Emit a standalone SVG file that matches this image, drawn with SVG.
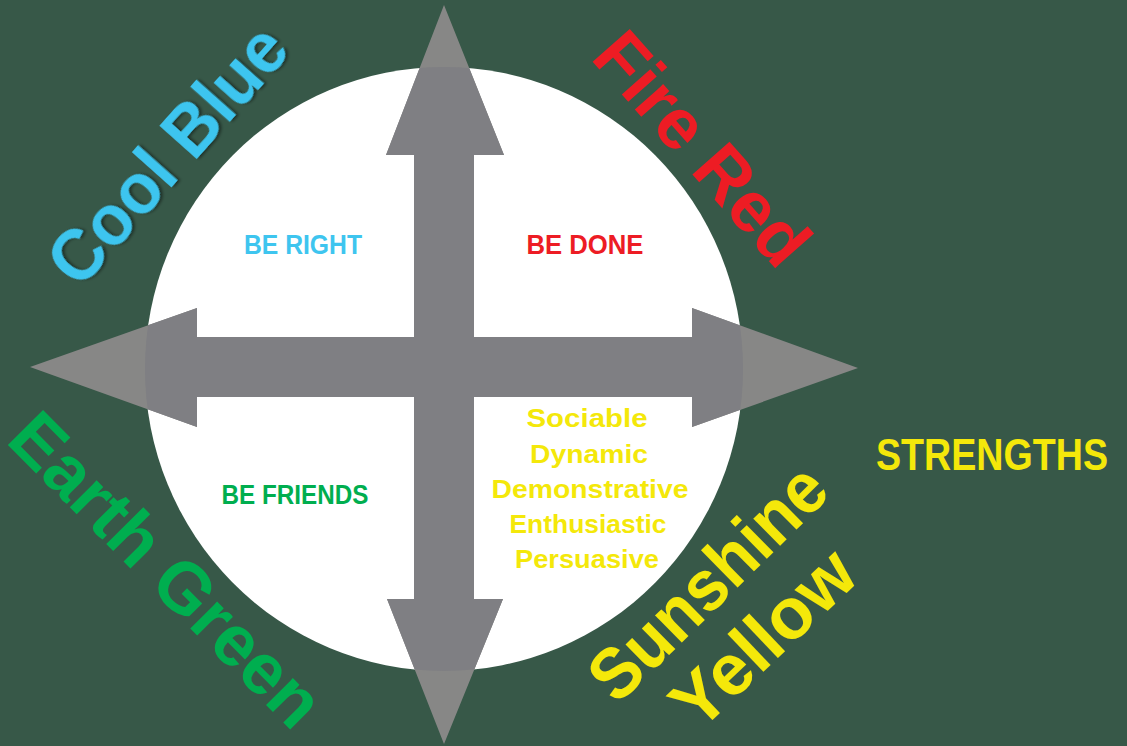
<svg xmlns="http://www.w3.org/2000/svg" width="1127" height="746" viewBox="0 0 1127 746">
<style>
.big{font-family:"Liberation Sans",Arial,sans-serif;font-weight:bold;font-size:72px;text-anchor:middle}
.lbl{font-family:"Liberation Sans",Arial,sans-serif;font-weight:bold;font-size:27px;text-anchor:middle}
.lst{font-family:"Liberation Sans",Arial,sans-serif;font-weight:bold;font-size:26px;text-anchor:middle;fill:#F4E80A}
.blue{fill:#3EC5EF}.red{fill:#ED1C24}.green{fill:#00AE4F}.yellow{fill:#F4E80A}
.arrOut{fill:#878786}.arrIn{fill:#7F7F83}
</style>
<defs>
<clipPath id="circ"><ellipse cx="444" cy="369" rx="299" ry="302"/></clipPath>
<filter id="sh" x="-10%" y="-10%" width="120%" height="120%"><feDropShadow dx="2" dy="2" stdDeviation="1.5" flood-color="#000" flood-opacity="0.45"/></filter>
<path id="arrows" d="M444,5 L504,155 L474,155 L474,337 L692,337 L692,308 L858,368 L692,427 L692,397 L474,397 L474,599 L503,599 L444,744 L387,599 L414,599 L414,397 L197,397 L197,427 L30,367 L197,308 L197,337 L414,337 L414,155 L386,155 Z"/>
</defs>
<rect width="1127" height="746" fill="#375848"/>
<ellipse id="circle" cx="444" cy="369" rx="299" ry="302" fill="#FFFFFF"/>
<g id="connectors">
<use href="#arrows" class="arrOut"/>
<use href="#arrows" class="arrIn" clip-path="url(#circ)"/>
</g>
<g id="cool-blue">
<text class="big blue" x="186" y="171" textLength="320" lengthAdjust="spacingAndGlyphs" transform="rotate(-48.3 186 171)" filter="url(#sh)">Cool Blue</text>
<text class="lbl blue" x="303" y="254" textLength="118" lengthAdjust="spacingAndGlyphs">BE RIGHT</text>
</g>
<g id="fire-red">
<text class="big red" x="684" y="165" textLength="285" lengthAdjust="spacingAndGlyphs" transform="rotate(48.5 684 165)">Fire Red</text>
<text class="lbl red" x="585" y="254" textLength="117" lengthAdjust="spacingAndGlyphs">BE DONE</text>
</g>
<g id="earth-green">
<text class="big green" x="149" y="587" textLength="410" lengthAdjust="spacingAndGlyphs" transform="rotate(45.2 149 587)">Earth Green</text>
<text class="lbl green" x="295" y="504" textLength="147" lengthAdjust="spacingAndGlyphs">BE FRIENDS</text>
</g>
<g id="sunshine-yellow">
<text class="big yellow" x="725" y="600" textLength="302" lengthAdjust="spacingAndGlyphs" transform="rotate(-44.5 725 600)">Sunshine</text>
<text class="big yellow" x="780" y="656" textLength="224" lengthAdjust="spacingAndGlyphs" transform="rotate(-43.5 780 656)">Yellow</text>
<text class="lst" x="587" y="427" textLength="121" lengthAdjust="spacingAndGlyphs">Sociable</text>
<text class="lst" x="589" y="463" textLength="118" lengthAdjust="spacingAndGlyphs">Dynamic</text>
<text class="lst" x="590" y="498" textLength="197" lengthAdjust="spacingAndGlyphs">Demonstrative</text>
<text class="lst" x="588" y="533" textLength="157" lengthAdjust="spacingAndGlyphs">Enthusiastic</text>
<text class="lst" x="587" y="568" textLength="144" lengthAdjust="spacingAndGlyphs">Persuasive</text>
</g>
<g id="strengths">
<text class="lbl yellow" x="992" y="470" style="font-size:45px" textLength="232" lengthAdjust="spacingAndGlyphs">STRENGTHS</text>
</g>
</svg>
